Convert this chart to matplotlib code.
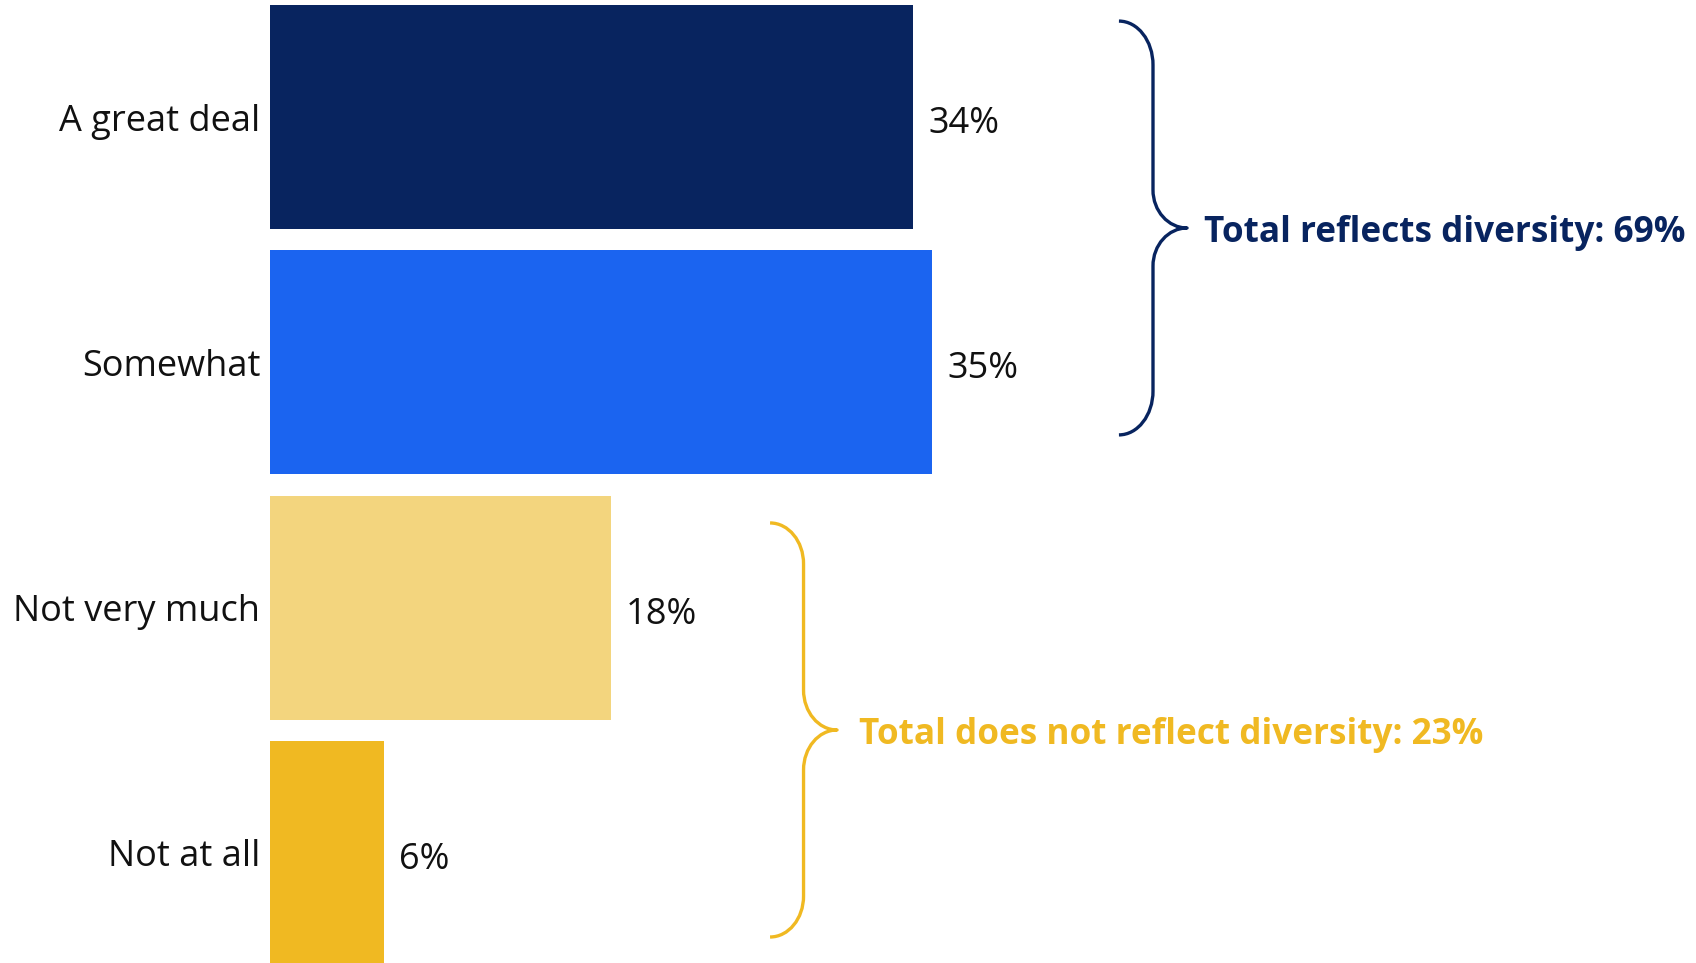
import matplotlib
matplotlib.use("Agg")
import matplotlib.pyplot as plt
from matplotlib.path import Path
from matplotlib.patches import PathPatch

plt.rcParams["font.family"] = ["Open Sans", "DejaVu Sans"]

# Survey responses: how much the total reflects diversity
categories = ["A great deal", "Somewhat", "Not very much", "Not at all"]
values = [34, 35, 18, 6]
bar_colors = ["#08245F", "#1B64F0", "#F3D57E", "#F0B922"]
value_labels = ["34%", "35%", "18%", "6%"]

group_labels = ["Total reflects diversity: 69%", "Total does not reflect diversity: 23%"]
group_colors = ["#08245F", "#F0B922"]

W, H, DPI = 1696, 963, 100
fig = plt.figure(figsize=(W / DPI, H / DPI), dpi=DPI)
ax = fig.add_axes([270 / W, 0, 1 - 270 / W, 1])

ypos = list(range(len(categories)))
bars = ax.barh(ypos, values, height=0.913, color=bar_colors)
ax.set_xlim(0, 75.37)
ax.set_ylim(3.449, -0.477)

ax.set_yticks(ypos)
ax.set_yticklabels(categories, fontsize=26, color="#111111")
ax.tick_params(axis="y", length=0, pad=7)
ax.set_xticks([])
for s in ax.spines.values():
    s.set_visible(False)

# value labels just past the end of each bar
for y, v, lbl in zip(ypos, values, value_labels):
    ax.annotate(lbl, xy=(v, y), xytext=(11, -11.5), textcoords="offset points",
                ha="left", va="baseline", fontsize=26, color="#111111")


def brace(ax, x_end, x_tip, y_top, y_bot, dy_end, dy_mid, color):
    """Right-facing curly brace spanning y_top..y_bot in data units."""
    k = 0.552
    x_mid = (x_end + x_tip) / 2
    y_mid = (y_top + y_bot) / 2
    w1 = x_mid - x_end
    w2 = x_tip - x_mid
    verts = [
        (x_end, y_top),
        (x_end + k * w1, y_top), (x_mid, y_top + dy_end - k * dy_end), (x_mid, y_top + dy_end),
        (x_mid, y_mid - dy_mid),
        (x_mid, y_mid - dy_mid + k * dy_mid), (x_tip - k * w2, y_mid), (x_tip, y_mid),
        (x_tip - k * w2, y_mid), (x_mid, y_mid + dy_mid - k * dy_mid), (x_mid, y_mid + dy_mid),
        (x_mid, y_bot - dy_end),
        (x_mid, y_bot - dy_end + k * dy_end), (x_end + k * w1, y_bot), (x_end, y_bot),
    ]
    codes = ([Path.MOVETO] + [Path.CURVE4] * 3 + [Path.LINETO] + [Path.CURVE4] * 6
             + [Path.LINETO] + [Path.CURVE4] * 3)
    ax.add_patch(PathPatch(Path(verts, codes), fill=False, edgecolor=color,
                           lw=2.4, capstyle="butt", joinstyle="round"))
    return x_tip, y_mid


tip1 = brace(ax, 44.87, 48.47, -0.391, 1.296, 0.179, 0.155, group_colors[0])
tip2 = brace(ax, 26.43, 29.97, 1.655, 3.343, 0.167, 0.163, group_colors[1])

for (tx, ty), label, col, dx in zip([tip1, tip2], group_labels, group_colors, [12, 16]):
    ax.annotate(label, xy=(tx, ty), xytext=(dx, -10), textcoords="offset points",
                ha="left", va="baseline", fontsize=25.3, fontweight="bold", color=col)

fig.savefig("out.png", dpi=DPI, facecolor="white")
